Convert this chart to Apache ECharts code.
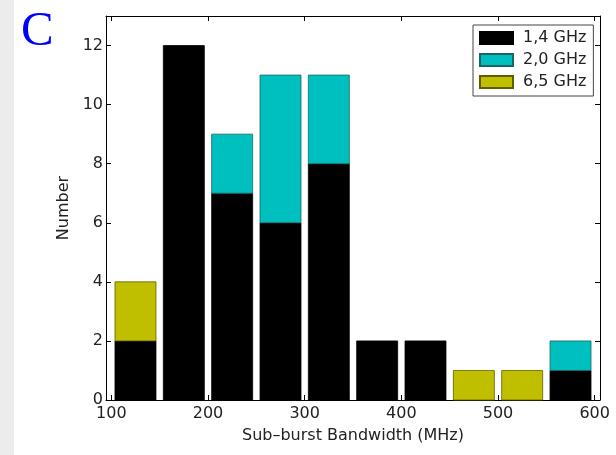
<!DOCTYPE html>
<html>
<head>
<meta charset="utf-8">
<script src="https://cdn.jsdelivr.net/npm/echarts@6/dist/echarts.min.js"></script>
<style>
html,body{margin:0;padding:0;background:#fff;}
#chart{width:616px;height:455px;}
</style>
</head>
<body>
<div id="chart"></div>
<script>
// Bin centres of the sub-burst bandwidth histogram (MHz)
var binCenters = [125, 175, 225, 275, 325, 375, 425, 475, 525, 575];
// Counts per band
var ghz14 = [2, 12, 7, 6, 8, 2, 2, 0, 0, 1];
var ghz20 = [0, 0, 2, 5, 3, 0, 0, 0, 0, 1];
var ghz65 = [2, 0, 0, 0, 0, 0, 0, 1, 1, 0];
var seriesNames = ['1,4 GHz', '2,0 GHz', '6,5 GHz'];
// Tick labels
var xTicks = [100, 200, 300, 400, 500, 600];
var yTicks = [0, 2, 4, 6, 8, 10, 12];

// Build stacked [x, bottom, top] rows for each band
var bands = [ghz14, ghz20, ghz65];
var running = binCenters.map(function () { return 0; });
var stacked = bands.map(function (vals) {
  return binCenters.map(function (c, i) {
    var lo = running[i];
    running[i] = lo + vals[i];
    return [c, lo, running[i]];
  });
});

var BAR_W = 42.4; // MHz, bar width in data units

function renderBar(params, api) {
  var x = api.value(0), lo = api.value(1), hi = api.value(2);
  if (!(hi > lo)) return null;
  var p1 = api.coord([x - BAR_W / 2, hi]);
  var p2 = api.coord([x + BAR_W / 2, lo]);
  return {
    type: 'rect',
    shape: {x: p1[0], y: p1[1], width: p2[0] - p1[0], height: p2[1] - p1[1]},
    style: api.style()
  };
}

var chart = echarts.init(document.getElementById('chart'), null, {renderer: 'canvas'});
var font = 'DejaVu Sans';
var txt = '#222';

function mkBar(name, rows, color, border) {
  return {
    name: name,
    type: 'custom',
    renderItem: renderBar,
    encode: {x: 0, y: [1, 2]},
    data: rows,
    itemStyle: {color: color, borderColor: border, borderWidth: 0.8},
    emphasis: {disabled: true},
    animation: false
  };
}

var axisCommon = {
  axisLine: {show: true, onZero: false, lineStyle: {color: '#000', width: 1}},
  splitLine: {show: false}
};

chart.setOption({
  backgroundColor: '#fff',
  animation: false,
  grid: {left: 106, right: 16, top: 16, bottom: 55, containLabel: false},
  graphic: [
    {type: 'rect', shape: {x: 0, y: 0, width: 14, height: 455}, style: {fill: '#ececec'}, silent: true},
    {type: 'text', x: 21, y: 32, style: {text: 'C', fill: '#0000ff', font: '49px "Liberation Serif"', verticalAlign: 'middle'}, silent: true}
  ],
  legend: {
    orient: 'vertical',
    left: 473, top: 25,
    padding: [5, 7, 6, 6],
    itemWidth: 33, itemHeight: 12, itemGap: 6,
    icon: 'rect',
    backgroundColor: '#fff',
    borderColor: '#444', borderWidth: 1,
    textStyle: {fontFamily: font, fontSize: 16, color: txt, lineHeight: 16, padding: [0, 0, 0, 5]},
    data: seriesNames
  },
  xAxis: [
    Object.assign({}, axisCommon, {
      type: 'value', min: 94.5, max: 605.5, position: 'bottom',
      name: 'Sub–burst Bandwidth (MHz)', nameLocation: 'middle', nameGap: 28,
      nameTextStyle: {fontFamily: font, fontSize: 16, color: txt},
      axisTick: {show: true, inside: true, length: 5, lineStyle: {color: '#000'}, customValues: xTicks},
      axisLabel: {show: true, fontFamily: font, fontSize: 16, color: txt, margin: 6, customValues: xTicks}
    }),
    Object.assign({}, axisCommon, {
      type: 'value', min: 94.5, max: 605.5, position: 'top',
      axisTick: {show: true, inside: true, length: 5, lineStyle: {color: '#000'}, customValues: xTicks},
      axisLabel: {show: false}
    })
  ],
  yAxis: [
    Object.assign({}, axisCommon, {
      type: 'value', min: 0, max: 13, position: 'left',
      name: 'Number', nameLocation: 'middle', nameGap: 28,
      nameTextStyle: {fontFamily: font, fontSize: 16, color: txt},
      axisTick: {show: true, inside: true, length: 5, lineStyle: {color: '#000'}, customValues: yTicks},
      axisLabel: {show: true, fontFamily: font, fontSize: 16, color: txt, margin: 3, customValues: yTicks}
    }),
    Object.assign({}, axisCommon, {
      type: 'value', min: 0, max: 13, position: 'right',
      axisTick: {show: true, inside: true, length: 5, lineStyle: {color: '#000'}, customValues: yTicks},
      axisLabel: {show: false}
    })
  ],
  series: [
    mkBar(seriesNames[0], stacked[0], '#000000', '#000000'),
    mkBar(seriesNames[1], stacked[1], '#00bfbf', '#1a6666'),
    mkBar(seriesNames[2], stacked[2], '#bfbf00', '#5e5e00')
  ]
});
</script>
</body>
</html>
